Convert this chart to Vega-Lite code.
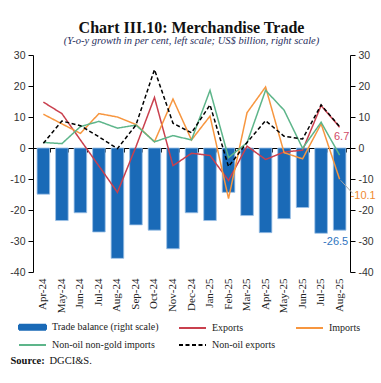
{
  "$schema": "https://vega.github.io/schema/vega-lite/v6.json",
  "width": 317,
  "height": 217,
  "autosize": {"type": "none"},
  "padding": {"left": 33, "top": 55, "right": 31, "bottom": 111},
  "background": "white",
  "title": {
    "text": "Chart III.10: Merchandise Trade",
    "subtitle": "(Y-o-y growth in per cent, left scale; US$ billion, right scale)",
    "font": "Liberation Serif",
    "fontSize": 16,
    "fontWeight": "bold",
    "color": "#111111",
    "subtitleFont": "Liberation Serif",
    "subtitleFontSize": 10.5,
    "subtitleFontStyle": "italic",
    "subtitleColor": "#1f2d5c",
    "subtitlePadding": 0,
    "offset": 4,
    "anchor": "middle"
  },
  "datasets": {
    "trade": [
      {"month": "Apr-24", "series": "Trade balance (right scale)", "value": -14.9},
      {"month": "May-24", "series": "Trade balance (right scale)", "value": -23.4},
      {"month": "Jun-24", "series": "Trade balance (right scale)", "value": -20.9},
      {"month": "Jul-24", "series": "Trade balance (right scale)", "value": -27.1},
      {"month": "Aug-24", "series": "Trade balance (right scale)", "value": -35.6},
      {"month": "Sep-24", "series": "Trade balance (right scale)", "value": -24.8},
      {"month": "Oct-24", "series": "Trade balance (right scale)", "value": -26.5},
      {"month": "Nov-24", "series": "Trade balance (right scale)", "value": -32.5},
      {"month": "Dec-24", "series": "Trade balance (right scale)", "value": -20.9},
      {"month": "Jan-25", "series": "Trade balance (right scale)", "value": -23.4},
      {"month": "Feb-25", "series": "Trade balance (right scale)", "value": -14.3},
      {"month": "Mar-25", "series": "Trade balance (right scale)", "value": -21.8},
      {"month": "Apr-25", "series": "Trade balance (right scale)", "value": -27.3},
      {"month": "May-25", "series": "Trade balance (right scale)", "value": -22.8},
      {"month": "Jun-25", "series": "Trade balance (right scale)", "value": -19.2},
      {"month": "Jul-25", "series": "Trade balance (right scale)", "value": -27.5},
      {"month": "Aug-25", "series": "Trade balance (right scale)", "value": -26.5},

      {"month": "Apr-24", "series": "Exports", "value": 14.8},
      {"month": "May-24", "series": "Exports", "value": 11.1},
      {"month": "Jun-24", "series": "Exports", "value": 2.6},
      {"month": "Jul-24", "series": "Exports", "value": -5.8},
      {"month": "Aug-24", "series": "Exports", "value": -14.3},
      {"month": "Sep-24", "series": "Exports", "value": 0.4},
      {"month": "Oct-24", "series": "Exports", "value": 16.3},
      {"month": "Nov-24", "series": "Exports", "value": -5.7},
      {"month": "Dec-24", "series": "Exports", "value": -1.7},
      {"month": "Jan-25", "series": "Exports", "value": -2.4},
      {"month": "Feb-25", "series": "Exports", "value": -10.5},
      {"month": "Mar-25", "series": "Exports", "value": 0.6},
      {"month": "Apr-25", "series": "Exports", "value": -3.7},
      {"month": "May-25", "series": "Exports", "value": -1.3},
      {"month": "Jun-25", "series": "Exports", "value": -0.7},
      {"month": "Jul-25", "series": "Exports", "value": 13.7},
      {"month": "Aug-25", "series": "Exports", "value": 6.7},

      {"month": "Apr-24", "series": "Imports", "value": 10.9},
      {"month": "May-24", "series": "Imports", "value": 7.8},
      {"month": "Jun-24", "series": "Imports", "value": 4.7},
      {"month": "Jul-24", "series": "Imports", "value": 11.1},
      {"month": "Aug-24", "series": "Imports", "value": 10.0},
      {"month": "Sep-24", "series": "Imports", "value": 7.6},
      {"month": "Oct-24", "series": "Imports", "value": 2.0},
      {"month": "Nov-24", "series": "Imports", "value": 15.8},
      {"month": "Dec-24", "series": "Imports", "value": 2.6},
      {"month": "Jan-25", "series": "Imports", "value": 10.3},
      {"month": "Feb-25", "series": "Imports", "value": -16.3},
      {"month": "Mar-25", "series": "Imports", "value": 11.4},
      {"month": "Apr-25", "series": "Imports", "value": 19.7},
      {"month": "May-25", "series": "Imports", "value": -1.5},
      {"month": "Jun-25", "series": "Imports", "value": -3.5},
      {"month": "Jul-25", "series": "Imports", "value": 7.8},
      {"month": "Aug-25", "series": "Imports", "value": -10.1},

      {"month": "Apr-24", "series": "Non-oil non-gold imports", "value": 1.8},
      {"month": "May-24", "series": "Non-oil non-gold imports", "value": 1.4},
      {"month": "Jun-24", "series": "Non-oil non-gold imports", "value": 6.9},
      {"month": "Jul-24", "series": "Non-oil non-gold imports", "value": 8.6},
      {"month": "Aug-24", "series": "Non-oil non-gold imports", "value": 6.4},
      {"month": "Sep-24", "series": "Non-oil non-gold imports", "value": 7.4},
      {"month": "Oct-24", "series": "Non-oil non-gold imports", "value": 2.0},
      {"month": "Nov-24", "series": "Non-oil non-gold imports", "value": 4.0},
      {"month": "Dec-24", "series": "Non-oil non-gold imports", "value": 2.6},
      {"month": "Jan-25", "series": "Non-oil non-gold imports", "value": 18.6},
      {"month": "Feb-25", "series": "Non-oil non-gold imports", "value": -3.1},
      {"month": "Mar-25", "series": "Non-oil non-gold imports", "value": 1.7},
      {"month": "Apr-25", "series": "Non-oil non-gold imports", "value": 18.6},
      {"month": "May-25", "series": "Non-oil non-gold imports", "value": 12.2},
      {"month": "Jun-25", "series": "Non-oil non-gold imports", "value": -0.1},
      {"month": "Jul-25", "series": "Non-oil non-gold imports", "value": 8.3},
      {"month": "Aug-25", "series": "Non-oil non-gold imports", "value": -2.3},

      {"month": "Apr-24", "series": "Non-oil exports", "value": 1.5},
      {"month": "May-24", "series": "Non-oil exports", "value": 8.7},
      {"month": "Jun-24", "series": "Non-oil exports", "value": 7.2},
      {"month": "Jul-24", "series": "Non-oil exports", "value": 3.6},
      {"month": "Aug-24", "series": "Non-oil exports", "value": -0.2},
      {"month": "Sep-24", "series": "Non-oil exports", "value": 7.4},
      {"month": "Oct-24", "series": "Non-oil exports", "value": 25.3},
      {"month": "Nov-24", "series": "Non-oil exports", "value": 8.0},
      {"month": "Dec-24", "series": "Non-oil exports", "value": 4.9},
      {"month": "Jan-25", "series": "Non-oil exports", "value": 13.9},
      {"month": "Feb-25", "series": "Non-oil exports", "value": -6.0},
      {"month": "Mar-25", "series": "Non-oil exports", "value": 1.8},
      {"month": "Apr-25", "series": "Non-oil exports", "value": 8.8},
      {"month": "May-25", "series": "Non-oil exports", "value": 3.8},
      {"month": "Jun-25", "series": "Non-oil exports", "value": 2.9},
      {"month": "Jul-25", "series": "Non-oil exports", "value": 13.9},
      {"month": "Aug-25", "series": "Non-oil exports", "value": 6.9}
    ]
  },
  "data": {"name": "trade"},
  "layer": [
    {
      "transform": [{"filter": "datum.series === 'Trade balance (right scale)'"}],
      "mark": {"type": "bar", "stroke": "#9cc0e6", "strokeWidth": 0.8},
      "encoding": {
        "x": {
          "field": "month", "type": "ordinal",
          "sort": ["Apr-24","May-24","Jun-24","Jul-24","Aug-24","Sep-24","Oct-24","Nov-24","Dec-24","Jan-25","Feb-25","Mar-25","Apr-25","May-25","Jun-25","Jul-25","Aug-25"],
          "scale": {"paddingInner": 0.32, "paddingOuter": 0.22},
          "axis": {
            "orient": "bottom", "domain": false, "ticks": false, "grid": false,
            "labelAngle": 270, "labelFont": "Liberation Serif", "labelFontSize": 11, "labelColor": "#222222", "labelPadding": 6,
            "title": "DGCI&S.", "titleX": 16, "titleY": 91, "titleAnchor": "start", "titleAlign": "left", "titleBaseline": "alphabetic",
            "titleFont": "Liberation Serif", "titleFontSize": 10.5, "titleFontWeight": "normal", "titleColor": "#111111"
          }
        },
        "y": {
          "field": "value", "type": "quantitative",
          "scale": {"domain": [-40, 30], "nice": false},
          "axis": {
            "orient": "right", "values": [-40,-30,-20,-10,0,10,20,30], "labelExpr": "'' + datum.value",
            "tickSize": 5, "domainColor": "#000000", "tickColor": "#000000", "grid": false, "title": null,
            "labelFont": "Liberation Sans", "labelFontSize": 10.5, "labelColor": "#333333", "labelPadding": 3
          }
        },
        "color": {
          "field": "series", "type": "nominal",
          "scale": {
            "domain": ["Trade balance (right scale)", "Exports", "Imports", "Non-oil non-gold imports", "Non-oil exports"],
            "range": ["#1a6ab7", "#c9404e", "#f7963f", "#5db58a", "#000000"]
          },
          "legend": {
            "orient": "none", "legendX": -15, "legendY": 266, "direction": "horizontal", "columns": 3,
            "gridAlign": "each", "columnPadding": 16, "rowPadding": 5, "title": null,
            "labelFont": "Liberation Serif", "labelFontSize": 10, "labelColor": "#222222", "labelOffset": 22,
            "symbolSize": 100, "symbolStrokeWidth": 2,
            "encode": {
              "symbols": {
                "update": {
                  "shape": {"signal": "datum.value === 'Trade balance (right scale)' ? 'M-1,-0.5H4.4V0.5H-1Z' : 'M-1,0H4.4'"},
                  "fill": {"signal": "datum.value === 'Trade balance (right scale)' ? '#1a6ab7' : 'transparent'"},
                  "stroke": {"signal": "datum.value === 'Trade balance (right scale)' ? 'transparent' : datum.value === 'Exports' ? '#c9404e' : datum.value === 'Imports' ? '#f7963f' : datum.value === 'Non-oil non-gold imports' ? '#5db58a' : '#000000'"},
                  "strokeDash": {"signal": "datum.value === 'Non-oil exports' ? [4, 2.5] : [1, 0]"},
                  "strokeWidth": {"value": 2},
                  "opacity": {"value": 1}
                }
              }
            }
          }
        }
      }
    },
    {
      "transform": [{"filter": "datum.series !== 'Trade balance (right scale)'"}],
      "mark": {"type": "line", "strokeWidth": 1.5},
      "encoding": {
        "x": {
          "field": "month", "type": "ordinal",
          "sort": ["Apr-24","May-24","Jun-24","Jul-24","Aug-24","Sep-24","Oct-24","Nov-24","Dec-24","Jan-25","Feb-25","Mar-25","Apr-25","May-25","Jun-25","Jul-25","Aug-25"],
          "axis": {
            "orient": "top", "offset": -93, "labels": false, "ticks": true, "tickBand": "extent", "tickSize": -4,
            "domainColor": "#000000", "tickColor": "#000000", "domainWidth": 1, "grid": false,
            "title": "Source:", "titleX": -23, "titleY": 215, "titleAnchor": "start", "titleAlign": "left", "titleBaseline": "alphabetic",
            "titleFont": "Liberation Serif", "titleFontSize": 10.5, "titleFontWeight": "bold", "titleColor": "#111111"
          }
        },
        "y": {
          "field": "value", "type": "quantitative",
          "axis": {
            "orient": "left", "values": [-40,-30,-20,-10,0,10,20,30], "labelExpr": "'' + datum.value",
            "tickSize": 5, "domainColor": "#000000", "tickColor": "#000000", "grid": false, "title": null,
            "labelFont": "Liberation Sans", "labelFontSize": 10.5, "labelColor": "#333333", "labelPadding": 3
          }
        },
        "color": {
          "field": "series", "type": "nominal",
          "legend": {
            "orient": "none", "legendX": -15, "legendY": 266, "direction": "horizontal", "columns": 3,
            "gridAlign": "each", "columnPadding": 16, "rowPadding": 5, "title": null,
            "labelFont": "Liberation Serif", "labelFontSize": 10, "labelColor": "#222222", "labelOffset": 22,
            "symbolSize": 100, "symbolStrokeWidth": 2,
            "encode": {
              "symbols": {
                "update": {
                  "shape": {"signal": "datum.value === 'Trade balance (right scale)' ? 'M-1,-0.5H4.4V0.5H-1Z' : 'M-1,0H4.4'"},
                  "fill": {"signal": "datum.value === 'Trade balance (right scale)' ? '#1a6ab7' : 'transparent'"},
                  "stroke": {"signal": "datum.value === 'Trade balance (right scale)' ? 'transparent' : datum.value === 'Exports' ? '#c9404e' : datum.value === 'Imports' ? '#f7963f' : datum.value === 'Non-oil non-gold imports' ? '#5db58a' : '#000000'"},
                  "strokeDash": {"signal": "datum.value === 'Non-oil exports' ? [4, 2.5] : [1, 0]"},
                  "strokeWidth": {"value": 2},
                  "opacity": {"value": 1}
                }
              }
            }
          }
        },
        "strokeDash": {
          "field": "series", "type": "nominal",
          "scale": {"domain": ["Exports", "Imports", "Non-oil non-gold imports", "Non-oil exports"], "range": [[1, 0], [1, 0], [1, 0], [4, 2.5]]},
          "legend": null
        }
      }
    },
    {
      "transform": [{"filter": "datum.series === 'Imports' && datum.month === 'Aug-25'"}],
      "mark": {"type": "rule", "color": "#a6a6a6", "strokeWidth": 1, "xOffset": 1, "yOffset": 1, "x2Offset": 13, "y2Offset": 14},
      "encoding": {
        "x": {"field": "month", "type": "ordinal", "sort": ["Apr-24","May-24","Jun-24","Jul-24","Aug-24","Sep-24","Oct-24","Nov-24","Dec-24","Jan-25","Feb-25","Mar-25","Apr-25","May-25","Jun-25","Jul-25","Aug-25"], "axis": null},
        "x2": {"field": "month"},
        "y": {"field": "value", "type": "quantitative", "axis": null},
        "y2": {"field": "value"}
      }
    },
    {
      "transform": [{"filter": "datum.series === 'Exports' && datum.month === 'Aug-25'"}],
      "mark": {"type": "text", "dx": 2, "dy": 10, "color": "#d04a68", "font": "Liberation Sans", "fontSize": 11},
      "encoding": {
        "x": {"field": "month", "type": "ordinal", "sort": ["Apr-24","May-24","Jun-24","Jul-24","Aug-24","Sep-24","Oct-24","Nov-24","Dec-24","Jan-25","Feb-25","Mar-25","Apr-25","May-25","Jun-25","Jul-25","Aug-25"], "axis": null},
        "y": {"field": "value", "type": "quantitative", "axis": null},
        "text": {"field": "value", "type": "nominal"}
      }
    },
    {
      "transform": [{"filter": "datum.series === 'Imports' && datum.month === 'Aug-25'"}],
      "mark": {"type": "text", "align": "left", "dx": 11, "dy": 17, "color": "#f08a30", "font": "Liberation Sans", "fontSize": 11},
      "encoding": {
        "x": {"field": "month", "type": "ordinal", "sort": ["Apr-24","May-24","Jun-24","Jul-24","Aug-24","Sep-24","Oct-24","Nov-24","Dec-24","Jan-25","Feb-25","Mar-25","Apr-25","May-25","Jun-25","Jul-25","Aug-25"], "axis": null},
        "y": {"field": "value", "type": "quantitative", "axis": null},
        "text": {"field": "value", "type": "nominal"}
      }
    },
    {
      "transform": [{"filter": "datum.series === 'Trade balance (right scale)' && datum.month === 'Aug-25'"}],
      "mark": {"type": "text", "dx": -4, "dy": 12, "color": "#2f74c0", "font": "Liberation Sans", "fontSize": 11},
      "encoding": {
        "x": {"field": "month", "type": "ordinal", "sort": ["Apr-24","May-24","Jun-24","Jul-24","Aug-24","Sep-24","Oct-24","Nov-24","Dec-24","Jan-25","Feb-25","Mar-25","Apr-25","May-25","Jun-25","Jul-25","Aug-25"], "axis": null},
        "y": {"field": "value", "type": "quantitative", "axis": null},
        "text": {"field": "value", "type": "nominal"}
      }
    }
  ],
  "resolve": {"axis": {"x": "independent", "y": "independent"}},
  "config": {
    "view": {"stroke": null},
    "axis": {"domainWidth": 1, "tickWidth": 1}
  }
}
